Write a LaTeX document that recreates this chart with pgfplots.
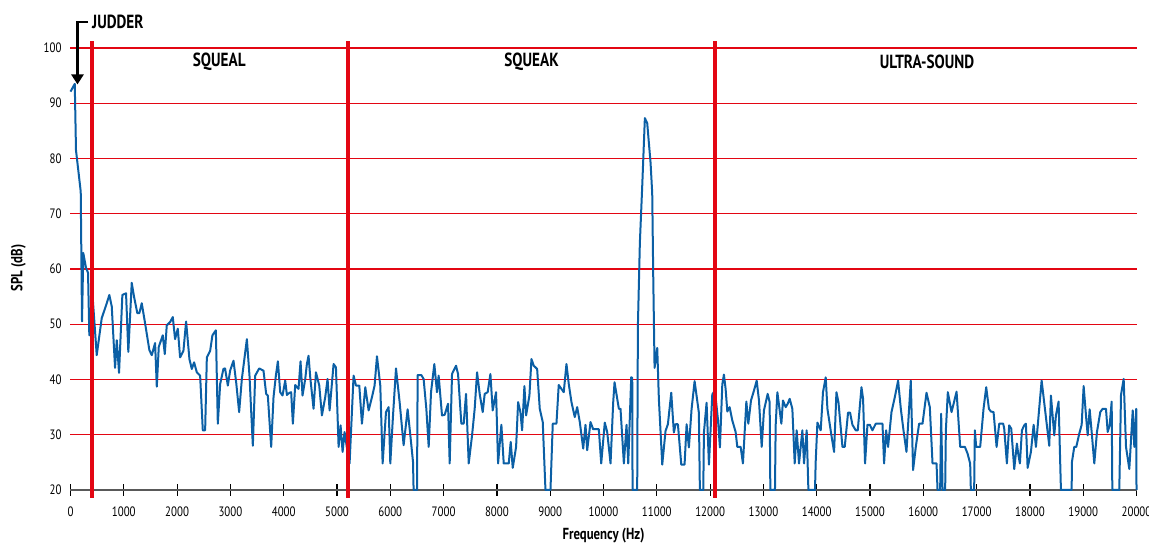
\documentclass[border=0pt]{standalone}
\usepackage{fontspec}
\setmainfont{PT Sans}[FakeStretch=0.8]
\usepackage{pgfplots}
\pgfplotsset{compat=1.18}
\usetikzlibrary{arrows.meta}

\definecolor{splblue}{HTML}{0B5FA5}
\definecolor{zonered}{HTML}{E30613}

\begin{document}
\begin{tikzpicture}
\begin{axis}[
  scale only axis, width=533pt, height=224.6pt,
  xmin=0, xmax=20000, ymin=20, ymax=101.3,
  clip=false,
  axis x line*=bottom, axis y line*=left,
  y axis line style={draw=none},
  x axis line style={draw=black!65, line width=0.8pt, -},
  xtick={0,1000,...,20000}, ytick={30,40,...,100},
  extra y ticks={20}, extra y tick style={grid=none},
  xtick align=center, major tick length=6pt,
  xtick style={black, line width=0.6pt},
  ytick style={draw=none},
  ymajorgrids, grid style={zonered, line width=0.55pt},
  tick label style={font=\fontsize{6.8}{8}\selectfont},
  xticklabel style={yshift=-2pt},
  yticklabel style={xshift=-1pt},
  /pgf/number format/assume math mode=true,
  /pgf/number format/1000 sep={},
  scaled x ticks=false,
  xlabel={\bfseries Frequency (Hz)}, ylabel={\bfseries SPL (dB)},
  label style={font=\bfseries\fontsize{8}{9}\selectfont},
  xlabel style={at={(axis description cs:0.5,-0.1025)}, anchor=center},
  ylabel style={at={(axis description cs:-0.0488,0.494)}, anchor=center},
]
\coordinate (bl) at (rel axis cs:0,0);

\addplot[splblue, line width=1pt, line join=round] coordinates {
(0,92.1) (80,93.5) (103,81.5) (192,74) (216,50.5) (240,62.9) (291,60.2) (329,59.3)
(353,48) (415,55) (492,44.4) (586,51.1) (680,53.8) (729,55.3) (774,53.2) (836,42.1)
(868,47.1) (911,41.2) (973,55.3) (1042,55.6) (1085,45) (1149,57.5) (1192,55) (1254,52)
(1292,52) (1337,53.8) (1399,50.2) (1480,45.3) (1525,44.4) (1587,46.6) (1619,38.7) (1656,45.9)
(1731,48) (1769,44.6) (1806,49.8) (1869,50.4) (1919,51.3) (1962,47.3) (2013,49.2) (2056,44)
(2119,45.2) (2169,50.5) (2231,43.7) (2276,41.9) (2319,43.1) (2370,41.3) (2432,40.7) (2482,30.8)
(2526,30.8) (2558,44) (2620,45.2) (2663,48) (2727,48.9) (2764,32) (2808,39.2) (2869,41.9)
(2900,42) (2952,38.9) (2995,41.6) (3058,43.4) (3108,39.5) (3164,34.1) (3215,40.1) (3309,47.3)
(3358,40.7) (3421,28) (3465,40.7) (3540,42) (3621,41.6) (3671,37.4) (3702,37.1) (3765,27.8)
(3809,36.8) (3853,40.7) (3891,43.3) (3934,37.7) (3978,37.1) (4028,39.8) (4060,37.2) (4109,37.6)
(4140,37.7) (4172,32) (4216,39) (4278,38.3) (4316,43.3) (4353,37.1) (4404,40.1) (4435,42.8)
(4466,44.3) (4498,40.4) (4560,34.7) (4605,41.3) (4667,38.9) (4717,33.5) (4779,36.8) (4823,40.1)
(4861,34.4) (4936,42.8) (4980,42.2) (5030,27.8) (5067,31.7) (5105,26.9) (5142,30.5) (5180,28)
(5236,24.8) (5311,40.7) (5356,38.9) (5418,38.9) (5468,32) (5531,38.6) (5593,34.4) (5656,36.8)
(5705,38.9) (5750,44.2) (5812,38.9) (5856,24.8) (5919,34.1) (5969,35) (6000,24.8) (6051,33.5)
(6107,42) (6175,35.9) (6250,28.1) (6325,34.6) (6376,29.9) (6426,25.1) (6437,20) (6501,20)
(6513,40.8) (6582,40.8) (6625,40.1) (6676,34.7) (6720,27.8) (6764,37.7) (6826,42.8) (6876,37.7)
(6907,40.7) (6970,33.5) (7020,33.6) (7083,35.6) (7114,24.8) (7158,41) (7233,42.5) (7271,41)
(7333,32) (7377,32) (7421,37.4) (7471,24.8) (7534,29.9) (7583,34.7) (7628,41.3) (7677,37.4)
(7734,34.1) (7771,37.4) (7827,37.7) (7878,41) (7921,34.4) (7984,37.7) (8022,24.8) (8084,31.8)
(8128,24.8) (8222,24.8) (8259,28.7) (8297,24) (8360,27.8) (8398,35.9) (8441,34.1) (8473,30.8)
(8516,38.8) (8548,33.5) (8610,37.1) (8648,43.7) (8691,42.5) (8755,41.9) (8804,34.7) (8860,32.3)
(8911,20) (9005,20) (9048,32) (9117,32) (9160,39) (9254,37.7) (9305,42.8) (9348,39.2)
(9399,35.9) (9461,33.2) (9506,35) (9555,32.3) (9619,27.5) (9662,31.8) (9694,27.2) (9756,32.3)
(9806,31) (9912,31) (9957,24.8) (10024,32.2) (10069,30.5) (10132,24.8) (10182,35.9) (10207,39.5)
(10288,34.7) (10319,34.7) (10382,24.8) (10432,31.8) (10464,24.8) (10520,40.4) (10539,40.3) (10545,20)
(10632,20) (10645,49.6) (10682,64.7) (10726,74.9) (10776,87.3) (10820,86.4) (10883,79.2) (10914,73.7)
(10933,58.7) (10958,42.1) (11008,45.7) (11039,36.4) (11102,24.6) (11164,30.7) (11208,31.9) (11271,37.6)
(11320,30.4) (11352,31.9) (11396,31.9) (11459,24.6) (11521,24.6) (11559,31.9) (11602,27.7) (11652,34.6)
(11709,39.7) (11789,34) (11808,20) (11872,20) (11884,30.4) (11934,35.8) (11978,24.6) (12041,37.3)
(12090,38) (12147,32.8) (12184,27.7) (12229,39.1) (12259,40.9) (12291,38.3) (12323,34.2) (12366,35)
(12416,32.6) (12479,30.5) (12510,27.8) (12573,27.8) (12616,24.8) (12680,36) (12717,32) (12767,36.2)
(12823,38) (12874,39.8) (12917,36.2) (12968,27.8) (13010,34.4) (13080,37.4) (13117,35.9) (13130,20)
(13217,20) (13230,31.7) (13262,37.7) (13337,32) (13367,36.2) (13418,35) (13455,35.6) (13493,36.5)
(13543,34.7) (13587,24.8) (13624,30.8) (13668,24.8) (13731,30.8) (13762,24.8) (13812,30.8) (13844,20)
(13968,20) (13981,25.1) (14013,32.2) (14075,30.8) (14118,37.7) (14169,40.4) (14201,34.7) (14276,29.9)
(14326,26.9) (14370,37.7) (14408,35.9) (14483,27.8) (14526,27.8) (14588,34) (14626,34) (14670,31.8)
(14732,30.8) (14770,30.8) (14840,38.6) (14870,36.5) (14907,24.8) (14952,31.8) (14996,31.8) (15046,30.8)
(15108,32) (15234,32) (15264,24.8) (15302,30.8) (15339,27.8) (15403,34.1) (15465,36.8) (15527,39.8)
(15578,34.7) (15628,30.8) (15684,26.9) (15733,34.7) (15765,39.8) (15808,23.6) (15859,27.8) (15921,32)
(15985,32) (16060,37.6) (16122,35) (16173,24.8) (16248,24.8) (16267,20) (16316,20) (16335,33.8)
(16361,20) (16410,20) (16423,30.8) (16460,37.7) (16530,34.1) (16624,37.8) (16692,27.8) (16780,27.8)
(16830,26.6) (16879,24.8) (16892,20) (16954,20) (16967,30.8) (16992,27.8) (17067,27.8) (17130,34.7)
(17180,38.6) (17231,34.7) (17268,34.2) (17318,34.1) (17375,27.8) (17424,32) (17499,32) (17518,31.1)
(17568,24.8) (17611,31.7) (17650,31.1) (17706,23.8) (17756,28.4) (17780,26.6) (17812,24.8) (17850,30.8)
(17893,31.7) (17925,32) (17957,24) (18019,26.9) (18070,31.8) (18113,27.8) (18163,33.5) (18220,39.8)
(18282,34.7) (18363,28) (18394,37.1) (18457,29.9) (18488,33.5) (18538,36) (18582,20) (18783,20)
(18789,25.1) (18832,27.8) (18870,27.8) (18926,30.2) (18971,31.8) (19008,38.8) (19052,33.5) (19084,29.9)
(19121,34.6) (19164,29.9) (19208,24.8) (19258,30.5) (19320,34.1) (19365,34.7) (19427,34.7) (19459,30.5)
(19496,31.7) (19534,36) (19546,20) (19677,20) (19709,37.2) (19759,40.1) (19803,27.8) (19865,23.8)
(19929,34.4) (19959,27.8) (19995,34.7) (20000,20)
};

% zone boundaries
\addplot[zonered, line width=2pt] coordinates {(400,18.6) (400,101.3)};
\addplot[zonered, line width=2pt] coordinates {(5200,18.6) (5200,101.3)};
\addplot[zonered, line width=2pt] coordinates {(12100,18.6) (12100,101.3)};

\node[font=\bfseries\fontsize{9.5}{10}\selectfont] at (axis cs:2790,97.5) {SQUEAL};
\node[font=\bfseries\fontsize{9.5}{10}\selectfont] at (axis cs:8650,97.5) {SQUEAK};
\node[font=\bfseries\fontsize{9.5}{10}\selectfont] at (axis cs:16070,97.5) {ULTRA-SOUND};
\node[font=\bfseries\fontsize{9.5}{10}\selectfont, anchor=west, inner sep=0pt] at (axis cs:400,104.8) {JUDDER};
\draw[line width=1.4pt, -{Triangle[width=6pt,length=5pt]}]
  (axis cs:330,104.7) -- (axis cs:131,104.7) -- (axis cs:131,93.4);
\end{axis}
\pgfresetboundingbox
\path[use as bounding box] (bl) ++(-35.25pt,-27.5pt) rectangle ++(574.5pt,272.5pt);
\end{tikzpicture}
\end{document}
